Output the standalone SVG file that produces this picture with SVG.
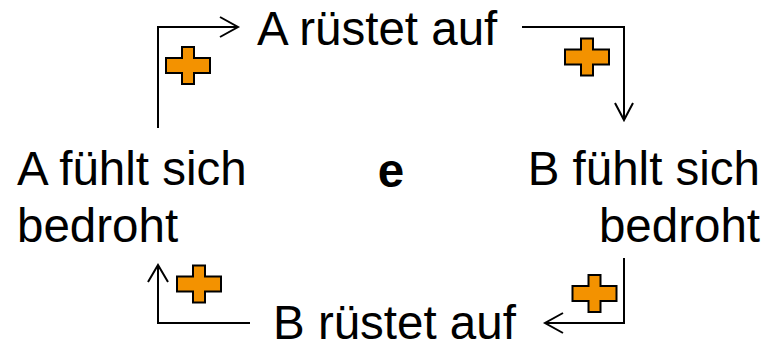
<svg xmlns="http://www.w3.org/2000/svg" width="782" height="348" viewBox="0 0 782 348">
<style>
text{font-family:"Liberation Sans",Arial,sans-serif;font-size:47.5px;fill:#000}
.b{font-weight:bold}
.c{fill:none;stroke:#000;stroke-width:2}
.p{fill:#F39200;stroke:#000;stroke-width:2;stroke-linejoin:miter}
</style>
<defs>
<path id="plus" d="M-6,-18.5 H6 V-7.5 H22 V7.5 H6 V18.5 H-6 V7.5 H-22 V-7.5 H-6 Z"/>
</defs>
<rect width="782" height="348" fill="#fff"/>
<g id="connectors">
<path class="c" d="M158,128 V27 H238 M220,17 L238,27 L220,37"/>
<path class="c" d="M522,27 H624 V120 M615,103 L624,120 L633,103"/>
<path class="c" d="M250,323 H158 V265 M148,282 L158,265 L168,282"/>
<path class="c" d="M624,258 V323 H545 M563,313 L545,323 L563,333"/>
</g>
<g id="plus1"><use href="#plus" class="p" x="188" y="65.5"/></g>
<g id="plus2"><use href="#plus" class="p" x="587" y="57"/></g>
<g id="plus3"><use href="#plus" class="p" x="199" y="284"/></g>
<g id="plus4"><use href="#plus" class="p" x="594.5" y="293.5"/></g>
<g id="a-ruestet"><text x="257" y="45">A rüstet auf</text></g>
<g id="b-bedroht"><text x="760" y="185" text-anchor="end">B fühlt sich</text><text x="760" y="242" text-anchor="end">bedroht</text></g>
<g id="b-ruestet"><text x="273" y="339">B rüstet auf</text></g>
<g id="a-bedroht"><text x="17" y="185">A fühlt sich</text><text x="17" y="242">bedroht</text></g>
<g id="center"><text class="b" x="391" y="187" text-anchor="middle">e</text></g>
</svg>
